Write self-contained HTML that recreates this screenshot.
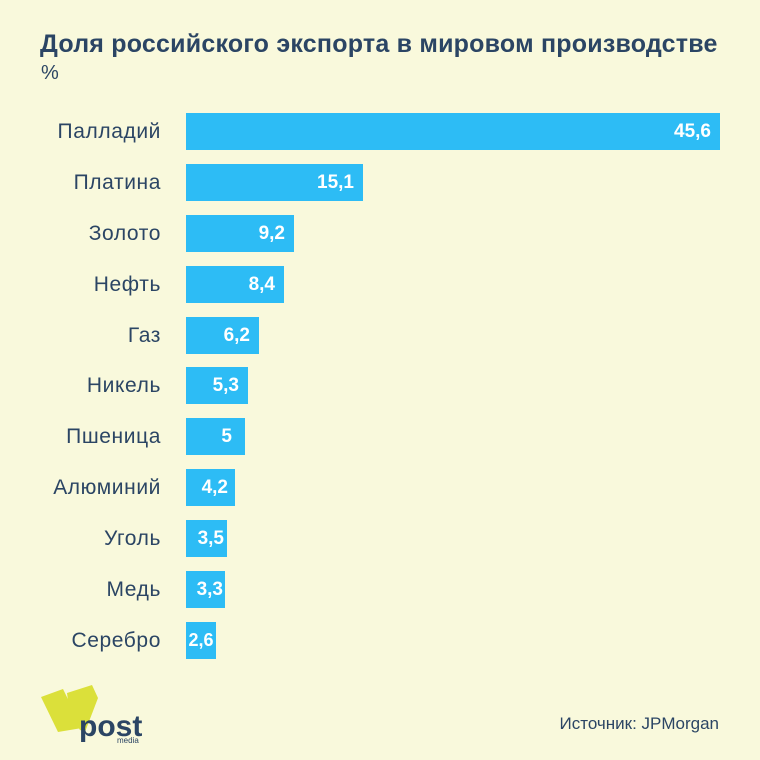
<!DOCTYPE html>
<html><head><meta charset="utf-8"><style>
body{margin:0;width:760px;height:760px;background:#f9f9dc;font-family:"Liberation Sans","DejaVu Sans",sans-serif;color:#2b4564;position:relative;overflow:hidden}
.t{position:absolute;left:40px;top:30px;font-size:25px;font-weight:bold;letter-spacing:0.22px;white-space:nowrap}
.p{position:absolute;left:41px;top:62px;font-size:20px}
.r{position:absolute;left:0;width:760px;height:37px}
.l{position:absolute;right:599px;top:0;line-height:37px;font-size:21px;white-space:nowrap;letter-spacing:0.6px}
.b{position:absolute;left:186px;top:0;height:37px;background:#2dbcf5;color:#fff;font-weight:bold;font-size:19px;line-height:37px;text-align:right;box-sizing:border-box;padding-right:9px}
.s{position:absolute;right:41px;top:714px;font-size:17px}
</style></head><body>
<div class="t">Доля российского экспорта в мировом производстве</div>
<div class="p">%</div>
<div class="r" style="top:113px"><div class="l">Палладий</div><div class="b" style="width:534px">45,6</div></div>
<div class="r" style="top:164px"><div class="l">Платина</div><div class="b" style="width:177px">15,1</div></div>
<div class="r" style="top:215px"><div class="l">Золото</div><div class="b" style="width:108px">9,2</div></div>
<div class="r" style="top:266px"><div class="l">Нефть</div><div class="b" style="width:98px">8,4</div></div>
<div class="r" style="top:317px"><div class="l">Газ</div><div class="b" style="width:73px">6,2</div></div>
<div class="r" style="top:367px"><div class="l">Никель</div><div class="b" style="width:62px">5,3</div></div>
<div class="r" style="top:418px"><div class="l">Пшеница</div><div class="b" style="width:59px;padding-right:13px">5</div></div>
<div class="r" style="top:469px"><div class="l">Алюминий</div><div class="b" style="width:49px;padding-right:7px">4,2</div></div>
<div class="r" style="top:520px"><div class="l">Уголь</div><div class="b" style="width:41px;padding-right:3px">3,5</div></div>
<div class="r" style="top:571px"><div class="l">Медь</div><div class="b" style="width:39px;padding-right:2px">3,3</div></div>
<div class="r" style="top:622px"><div class="l">Серебро</div><div class="b" style="width:30px;padding-right:0;text-align:center;font-size:18px">2,6</div></div>
<svg style="position:absolute;left:0;top:670px" width="160" height="90">
<polygon points="41,27 63,19 82,58 58,62" fill="#dbe03a"/>
<polygon points="67,23 92,15 98,28 85,62 80,60 70,45" fill="#dbe03a"/>
<text x="79" y="66" font-family="Liberation Sans,sans-serif" font-weight="bold" font-size="30" fill="#2b4564">post</text>
<text x="117" y="73" font-family="Liberation Sans,sans-serif" font-size="8" fill="#2b4564">media</text>
</svg>
<div class="s">Источник: JPMorgan</div>
</body></html>
